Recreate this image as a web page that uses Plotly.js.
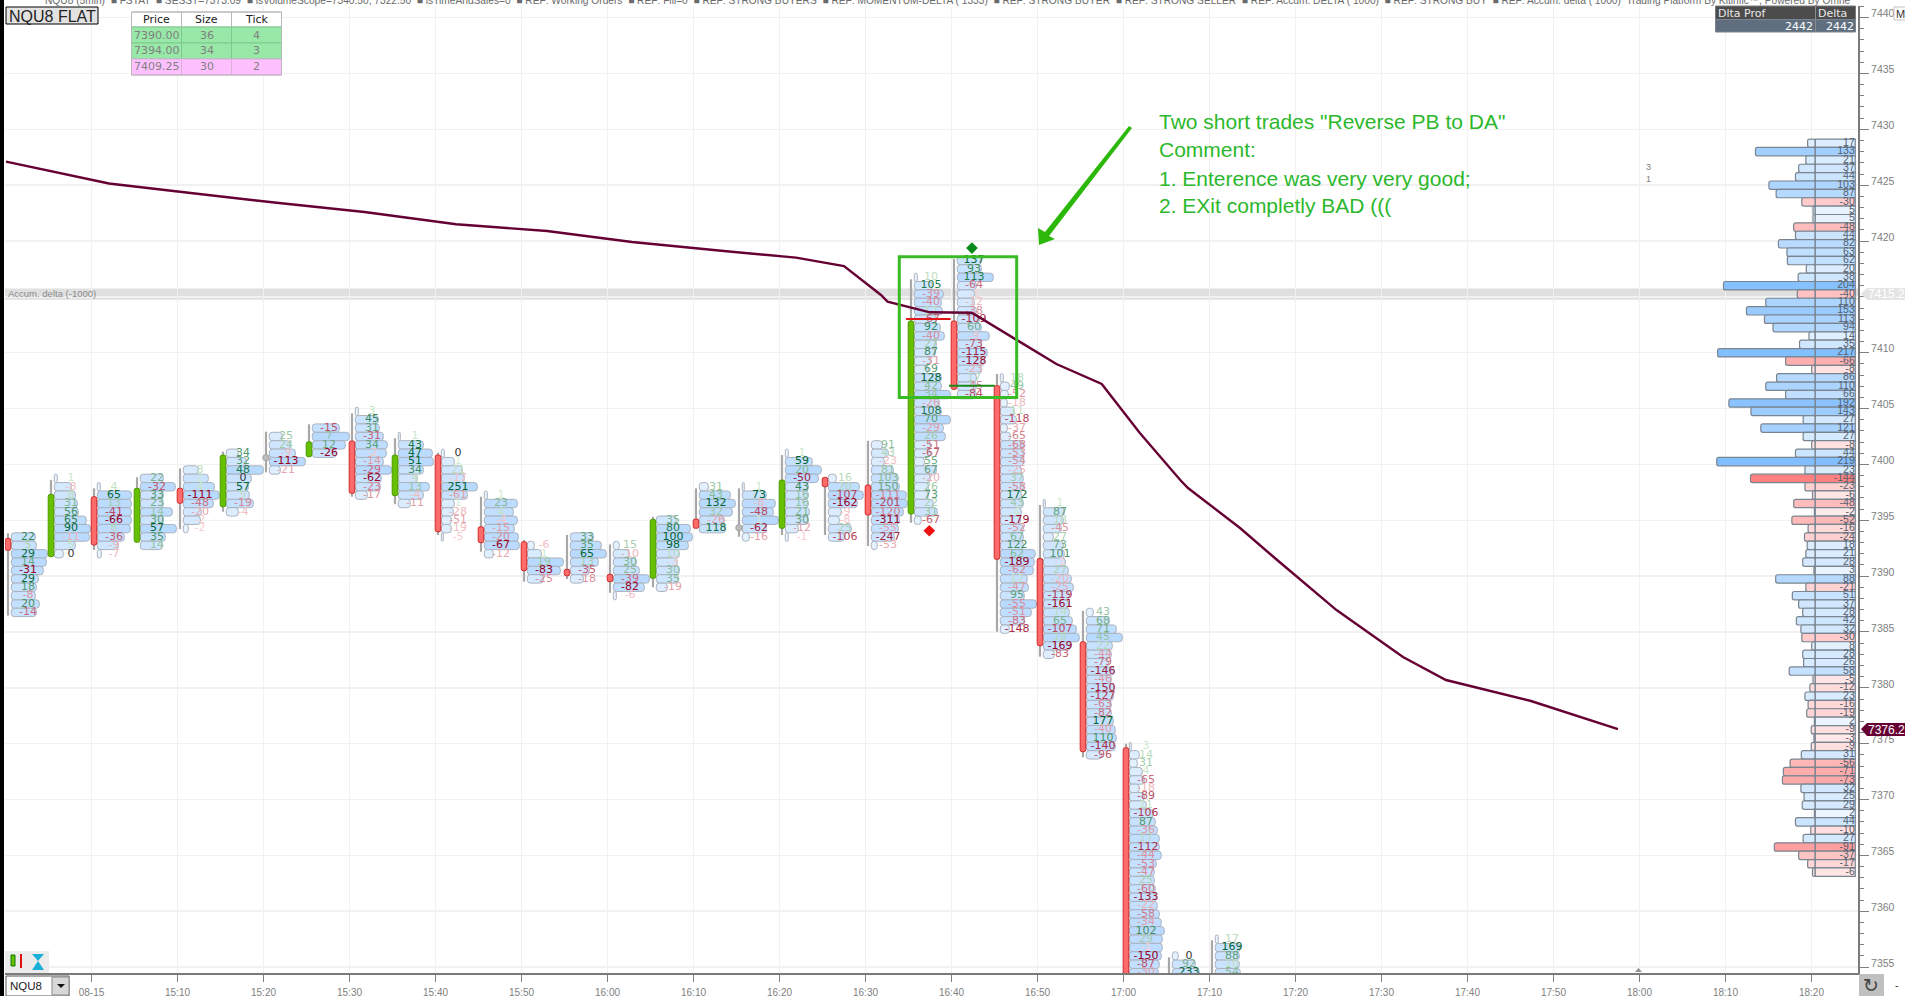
<!DOCTYPE html>
<html><head><meta charset="utf-8">
<script src="https://cdn.plot.ly/plotly-3.0.1.min.js"></script>
<style>html,body{margin:0;padding:0;background:#fff;overflow:hidden}</style></head>
<body><div id="chart" style="width:1905px;height:996px"></div>
<script>
// ---------- candle series (minutes after midnight, prices) ----------
const candleMinute=[890,895,900,905,910,915,920,925,930,935,940,945,950,955,960,965,970,975,980,985,990,995,1000,1005,1010,1015,1020,1025,1030];
const candleOpen =[7393.38,7391.74,7397.11,7393.03,7397.86,7396.21,7400.6,7400.69,7402.1,7397.2,7400.84,7394.42,7393.08,7390.61,7390.16,7389.8,7395.11,7394.33,7394.28,7398.84,7398.16,7395.56,7412.84,7407.05,7391.59,7384.13,7374.64,7350,7350];
const candleClose=[7392.31,7397.32,7392.78,7397.86,7396.52,7400.84,7400.6,7402.03,7397.41,7400.84,7393.97,7392.99,7390.49,7390.03,7389.5,7395.08,7394.28,7394.33,7398.6,7398.0,7395.47,7412.84,7406.72,7391.5,7383.77,7374.28,7350,7350,7350];
const candleHigh =[7393.83,7398.6,7397.86,7398.84,7399.65,7401.14,7402.93,7403.59,7404.57,7402.34,7401.05,7397.11,7393.23,7393.68,7392.84,7395.31,7397.86,7397.86,7400.84,7398.84,7402.12,7416.57,7418.39,7408.09,7396.37,7386.9,7375.0,7355.87,7357.4];
const candleLow  =[7386.46,7391.74,7392.34,7393.03,7394.22,7395.77,7399.29,7400.69,7397.11,7396.45,7393.68,7392.18,7389.5,7389.74,7388.51,7389.0,7394.42,7393.53,7393.68,7393.68,7392.7,7394.78,7406.66,7385.03,7382.79,7373.78,7350,7350,7350];
const profileTop =[7393.5,7398.75,7398,7398.75,7399.5,7401,7402.5,7403.25,7404.75,7402.5,7401,7397.25,7392.75,7393.5,7392.75,7395,7398,7398,7401,7398.75,7401.75,7416.75,7418.25,7407.75,7396.5,7386.75,7374.75,7356,7357.5];

// ---------- footprint cells: delta text and cell length per candle ----------
const d00=[22,5,29,14,-31,29,18,-8,20,-14];
const v00=[24,25,36,35,32,27,25,24,28,25];
const d01=[1,-8,8,31,56,65,90,-11,5,0];
const v01=[3,17,21,23,24,32,36,35,21,9];
const d02=[4,65,13,-41,-66,8,-36,-9,-7];
const v02=[3,34,34,34,34,33,27,21,4];
const d03=[22,-32,33,23,14,30,57,35,14];
const v03=[23,35,23,23,32,23,36,25,22];
const d04=[8,2,4,-111,-48,-20,-2,-2];
const v04=[15,25,31,36,30,18,17,5];
const d05=[34,32,48,0,57,5,-19,-4];
const v05=[12,20,37,25,22,23,27,12];
const d06=[25,24,-9,-113,-21];
const v06=[13,21,26,36,11];
const d07=[-15,7,12,-26];
const v07=[27,37,33,24];
const d08=[3,45,31,-31,34,-2,-14,-29,-62,-23,-17];
const v08=[3,23,24,28,32,31,28,36,26,25,12];
const d09=[1,43,47,51,34,4,13,-4,-11];
const v09=[2,25,34,35,25,19,31,25,12];
const d10=[0,1,21,-17,251,-61,1,-28,-51,-19,-5];
const v10=[3,13,21,23,36,26,13,12,10,10,2];
const d11=[1,23,4,-4,-15,-20,-67,-12];
const v11=[3,33,29,33,30,34,35,9];
const d12=[-6,1,19,-83,-25];
const v12=[7,14,36,33,16];
const d13=[33,35,65,13,-35,-18];
const v13=[23,31,36,28,19,13];
const d14=[15,-10,30,25,-39,-82,-6];
const v14=[6,16,23,26,36,31,3];
const d15=[35,80,100,98,10,-3,30,35,-19];
const v15=[20,34,36,32,23,21,23,22,11];
const d16=[31,43,132,32,-26,118];
const v16=[9,31,36,33,25,26];
const d17=[1,73,-8,-48,1,-62,-16];
const v17=[2,24,33,31,36,24,7];
const d18=[1,59,20,-50,43,16,16,21,30,-12,-1];
const v18=[3,27,36,33,23,23,23,24,23,13,3];
const d19=[16,20,-107,-162,-9,-8,25,-106];
const v19=[8,31,35,29,13,11,23,16];
const d20=[91,43,-23,81,103,150,-111,-201,-120,-311,-55,-247,-53];
const v20=[11,17,13,22,27,28,35,36,32,28,27,23,6];
const d21=[10,105,-39,-40,12,-67,92,-40,27,87,-31,69,128,42,34,-26,108,70,-29,26,-51,-67,55,67,-20,26,73,22,31,-67];
const v21=[3,18,29,27,28,22,26,30,22,21,16,14,27,27,36,25,27,36,29,31,16,16,10,22,16,14,14,19,23,7];
const d22=[137,93,113,-64,-1,-12,-38,-109,60,-9,-73,-115,-128,-23,17,-45,-84];
const v22=[24,24,36,19,17,17,19,22,24,32,24,30,27,24,19,19,19];
const d23=[18,49,-52,-18,11,-118,-37,-65,-68,-53,-54,-25,37,-58,172,43,4,-179,-52,67,122,62,-189,-62,12,-47,95,-55,-51,-83,-148];
const v23=[3,9,8,7,14,16,7,10,23,23,23,21,23,23,21,23,21,20,23,23,23,35,34,33,27,28,24,36,31,24,9];
const d24=[1,87,18,-45,27,73,101,-1,27,-20,-25,-119,-161,14,65,-107,18,-169,-83];
const v24=[2,21,20,18,10,20,21,22,25,28,30,26,25,26,29,33,36,27,11];
const d25=[43,68,71,45,22,-44,-79,-146,-46,-150,-127,-63,-82,177,-40,110,-140,-96];
const v25=[7,23,30,36,26,25,22,28,25,28,27,25,25,27,29,30,29,15];
const d26=[3,14,31,4,-65,-18,-89,11,-106,87,-36,17,-112,-44,-53,-47,25,-60,-133,-22,-58,-34,102,29,-1,-150,-87,-30];
const v26=[2,10,8,13,15,10,15,17,24,26,28,30,30,32,27,25,25,26,27,28,30,32,35,33,33,32,30,29];
const d27=[0,92,233];
const v27=[6,23,27];
const d28=[17,169,88,10,54];
const v28=[3,25,24,24,25];
const cellDeltas=[d00,d01,d02,d03,d04,d05,d06,d07,d08,d09,d10,d11,d12,d13,d14,d15,d16,d17,d18,d19,d20,d21,d22,d23,d24,d25,d26,d27,d28];
const cellLengths=[v00,v01,v02,v03,v04,v05,v06,v07,v08,v09,v10,v11,v12,v13,v14,v15,v16,v17,v18,v19,v20,v21,v22,v23,v24,v25,v26,v27,v28];

// ---------- session line ----------
const lineMinute=[890.06,902.03,910.52,921.8,931.74,942.4,952.97,962.85,974.13,981.92,987.5,991.8,992.56,997.5,1002.36,1007.59,1012.2,1017.47,1021.9,1026.6,1027.5,1033.55,1037.73,1044.77,1052.5,1057.5,1067.38,1077.5];
const linePrice=[7427.11,7425.15,7424.39,7423.4,7422.6,7421.5,7420.9,7419.91,7419.06,7418.51,7417.76,7415.17,7414.57,7413.62,7413.58,7411.14,7408.99,7407.2,7402.81,7398.6,7397.89,7394.31,7391.53,7386.96,7382.76,7380.7,7378.82,7376.31];

// ---------- right-hand delta profile, first row price then one value per 0.75 ----------
const profileFirstPrice=7428.75;
const deltaProfile=[17,133,21,37,44,103,87,-30,5,5,-48,44,82,63,62,20,38,204,-40,110,153,113,94,14,35,217,-66,-8,86,110,66,192,143,27,121,27,-8,44,219,23,-144,-23,-6,-48,-2,-52,-16,-24,18,21,28,3,88,-21,51,37,28,42,32,-30,8,28,26,58,-5,-12,23,-16,-19,2,-9,-3,-9,31,-56,-71,-73,32,25,29,2,44,-10,27,-91,-37,-17,-6];

// ---------- axes ----------
const xTickVals=[900,910,920,930,940,950,960,970,980,990,1000,1010,1020,1030,1040,1050,1060,1070,1080,1090,1100];
const xTickText=["08-15","15:10","15:20","15:30","15:40","15:50","16:00","16:10","16:20","16:30","16:40","16:50","17:00","17:10","17:20","17:30","17:40","17:50","18:00","18:10","18:20"];
const yTickVals=[7355,7360,7365,7370,7375,7380,7385,7390,7395,7400,7405,7410,7415,7420,7425,7430,7435,7440];

// ---------- order table and texts ----------
const tableHead=["Price","Size","Tick"];
const tablePrice=["7390.00","7394.00","7409.25"];
const tableSize=["36","34","30"];
const tableTick=["4","3","2"];
const commentLines=['Two short trades "Reverse PB to DA"','Comment:','1. Enterence was very very good;','2. EXit completly BAD (((' ];
const stripText="NQU8 (5min)  ■ FSTAT  ■ SESST=7373.09  ■ isVolumeScope=7340.50, 7322.50  ■ isTimeAndSales=0  ■ REF: Working Orders  ■ REF: Fill=0  ■ REF: STRONG BUYERS  ■ REF: MOMENTUM-DELTA ( 1333)  ■ REF: STRONG BUYER  ■ REF: STRONG SELLER  ■ REF: Accum. DELTA ( 1000)  ■ REF: STRONG BUY  ■ REF: Accum. delta ( 1000)  Trading Platform By Kitinfic™, Powered By Omne";

// trades
const entryMinute=[994.71,999.9], entryPrice=[7413.02,7413.02];
const exitMinute=[999.71,1005.03], exitPrice=[7407.05,7407.05];
const buyDiamond={x:[1002.38],y:[7419.37]}, sellDiamond={x:[997.42],y:[7394.06]};
const boxMinute=[993.93,1007.58], boxPrice=[7406.0,7418.59];
const lastPrice=7376.25, refPrice=7415.25;

// ---------- geometry helpers ----------
const W=1905,H=996,mL=5,mR=47,mT=6,mB=23;
const PW=W-mL-mR,PH=H-mT-mB;
const PX=x=>(x-mL)/PW, PY=y=>1-(y-mT)/PH;
const minPerPx=1/8.6;
const shapes=[],annos=[];
function rect(x0,y0,x1,y1,fill,line,lw){shapes.push({type:'rect',xref:'paper',yref:'paper',x0:PX(x0),x1:PX(x1),y0:PY(y0),y1:PY(y1),fillcolor:fill,line:{color:line||fill,width:line?(lw||1):0},layer:'above'});}
function txt(x,y,s,size,color,anchor,family){annos.push({xref:'paper',yref:'paper',x:PX(x),y:PY(y),text:s,showarrow:false,xanchor:anchor||'center',yanchor:'middle',font:{size:size,color:color,family:family||'Liberation Sans'},borderpad:0,borderwidth:0,captureevents:false});}
function poly(pts,fill){shapes.push({type:'path',xref:'paper',yref:'paper',path:'M '+pts.map(p=>PX(p[0])+' '+PY(p[1])).join(' L ')+' Z',fillcolor:fill,line:{width:0},layer:'above'});}

// ---------- footprint build ----------
const cellY=[],cellBase=[],cellLen=[],cellColor=[],labelX=[],labelY=[],labelText=[],labelColor=[];
const mix=(a,b,t)=>'rgb('+a.map((v,i)=>Math.round(v+(b[i]-v)*t)).join(',')+')';
cellDeltas.forEach((ds,i)=>{
  const vs=cellLengths[i],t=candleMinute[i]+0.29,maxAbs=Math.max(...ds.map(Math.abs));
  ds.forEach((d,k)=>{
    const p=profileTop[i]-0.75*k;
    cellY.push(p);cellBase.push(t+3.3*minPerPx);cellLen.push(vs[k]*minPerPx);
    cellColor.push(mix([238,246,255],[184,218,255],Math.min(1,vs[k]/36)));
    labelX.push(t+20*minPerPx);labelY.push(p);labelText.push(String(d));
    const a=Math.pow(Math.abs(d)/maxAbs,0.9);
    labelColor.push(d===0?'#333333':d>0?mix([212,235,208],[0,100,50],a):mix([250,212,212],[150,0,35],a));
  });
});

// ---------- right profile build ----------
const profY=deltaProfile.map((d,i)=>profileFirstPrice-0.75*i);
const profColor=deltaProfile.map(d=>d>=0?mix([240,247,255],[128,190,255],Math.pow(d/220,0.7)):mix([255,240,240],[255,128,128],Math.pow(-d/144,0.7)));
const colCentre=(1815.3-91.5)*minPerPx+900;
const profRightLen=40*minPerPx, profUnit=0.45*minPerPx;

// ---------- traces ----------
const traces=[];
traces.push({type:'bar',orientation:'h',y:profY,x:deltaProfile.map(d=>-Math.abs(d)*profUnit),base:profY.map(()=>colCentre),width:0.75,
  marker:{color:profColor,line:{color:'#7a8590',width:1.2},cornerradius:2},hoverinfo:'skip'});
traces.push({type:'bar',orientation:'h',y:profY,x:profY.map(()=>profRightLen),base:profY.map(()=>colCentre),width:0.75,
  marker:{color:profColor,line:{color:'#7a8590',width:1.2}},hoverinfo:'skip'});
traces.push({type:'bar',orientation:'h',y:cellY,x:cellLen,base:cellBase,width:0.75,
  marker:{color:cellColor,line:{color:'#aab2be',width:1},cornerradius:3},hoverinfo:'skip'});
traces.push({type:'bar',x:candleMinute.map(t=>t+0.29),y:candleHigh.map((h,i)=>h-candleLow[i]),base:candleLow,width:2.2*minPerPx,
  marker:{color:'#a8a8a8',line:{width:0}},hoverinfo:'skip'});
const bodyIdx=candleMinute.map((t,i)=>i).filter(i=>candleOpen[i]!==candleClose[i]);
traces.push({type:'bar',x:bodyIdx.map(i=>candleMinute[i]+0.29),
  y:bodyIdx.map(i=>Math.abs(candleOpen[i]-candleClose[i])),base:bodyIdx.map(i=>Math.min(candleOpen[i],candleClose[i])),width:5.6*minPerPx,
  marker:{color:bodyIdx.map(i=>candleClose[i]>candleOpen[i]?'#66c000':'#ff6a6a'),line:{color:bodyIdx.map(i=>candleClose[i]>candleOpen[i]?'#4a9a00':'#d02828'),width:1},cornerradius:2},hoverinfo:'skip'});
const dojiIdx=bodyIdx.length?candleMinute.map((t,i)=>i).filter(i=>candleOpen[i]===candleClose[i]&&candleOpen[i]>7354.5):[];
traces.push({type:'scatter',mode:'markers',x:dojiIdx.map(i=>candleMinute[i]+0.29),y:dojiIdx.map(i=>candleOpen[i]),marker:{symbol:'hexagon',size:7,color:'#bdbdbd',line:{color:'#a0a0a0',width:1}},hoverinfo:'skip'});
traces.push({type:'scatter',mode:'text',x:labelX,y:labelY,text:labelText,textposition:'middle center',
  textfont:{family:'DejaVu Sans',size:11,color:labelColor},hoverinfo:'skip'});
traces.push({type:'scatter',mode:'text',x:profY.map(()=>colCentre+39.5*minPerPx),y:profY,text:deltaProfile.map(String),textposition:'middle left',
  textfont:{family:'Liberation Sans',size:10.5,color:'#55606e'},hoverinfo:'skip'});
traces.push({type:'scatter',mode:'lines',x:lineMinute,y:linePrice,line:{color:'#660033',width:2.4},hoverinfo:'skip'});
traces.push({type:'scatter',mode:'lines',x:entryMinute,y:entryPrice,line:{color:'#e01818',width:2},hoverinfo:'skip'});
traces.push({type:'scatter',mode:'lines',x:exitMinute,y:exitPrice,line:{color:'#1a8a1a',width:2},hoverinfo:'skip'});
traces.push({type:'scatter',mode:'markers',x:buyDiamond.x,y:buyDiamond.y,marker:{symbol:'diamond',size:9,color:'#0a8a1a'},hoverinfo:'skip'});
traces.push({type:'scatter',mode:'markers',x:sellDiamond.x,y:sellDiamond.y,marker:{symbol:'diamond',size:9,color:'#ee1111'},hoverinfo:'skip'});

// ---------- decorations ----------
shapes.push({type:'rect',xref:'paper',yref:'y',x0:0,x1:1,y0:refPrice-0.5,y1:refPrice+0.5,fillcolor:'#e0e0e0',line:{width:0},layer:'below'});
shapes.push({type:'rect',xref:'x',yref:'y',x0:boxMinute[0],x1:boxMinute[1],y0:boxPrice[0],y1:boxPrice[1],fillcolor:'rgba(0,0,0,0)',line:{color:'#38bb24',width:3},layer:'above'});
txt(8,294,'Accum. delta (-1000)',9.5,'#8a8a8a','left');
// left border
rect(-1,-1,4,997,'#000000');
// top strip
txt(45,1,stripText,10.2,'#6a6a6a','left');
// flat label
rect(6,7,98,24,'#e2e2e2','#000000',1);
txt(52,16,'NQU8 FLAT',16,'#222222');
// order table
const colX=[131.5,181.5,231.5,281.5],rowY=[12,27,43,59,75];
const rowFill=['#ffffff','#98e8a8','#98e8a8','#ffc0ff'];
for(let r=0;r<4;r++)for(let c=0;c<3;c++)rect(colX[c],rowY[r],colX[c+1],rowY[r+1],rowFill[r],r===3?'#d8b0d8':(r===0?'#b8b8b8':'#80c890'),1);
rect(131.5,12,281.5,75,'rgba(0,0,0,0)','#b8b8b8',1);
tableHead.forEach((s,c)=>txt((colX[c]+colX[c+1])/2,19.5,s,11,'#222222','center','DejaVu Sans'));
[tablePrice,tableSize,tableTick].forEach((col,c)=>col.forEach((s,r)=>txt((colX[c]+colX[c+1])/2,(rowY[r+1]+rowY[r+2])/2,s,11,'#808080','center','DejaVu Sans')));
// comment
const commentY=[122,150,178,205.5];
commentLines.forEach((s,i)=>txt(1159,commentY[i],s,21,'#2cb82c','left'));
poly([[1129,126],[1132,128],[1049,236],[1055,239],[1039,245],[1038,228],[1045,232]],'#2cb80a');
txt(1648,167,'3',9,'#808080');txt(1648,179,'1',9,'#808080');
// delta header
rect(1715.5,6,1855.5,19.5,'#4c4c4c','#7a7a7a',1);
rect(1715.5,19.5,1855.5,32,'#5f6f7f','#7a8590',1);
shapes.push({type:'line',xref:'paper',yref:'paper',x0:PX(1815.5),x1:PX(1815.5),y0:PY(6),y1:PY(32),line:{color:'#8a8a8a',width:1},layer:'above'});
txt(1718,13,'Dlta Prof',11,'#e8e8e8','left','DejaVu Sans');
txt(1818,13,'Delta',11,'#e8e8e8','left','DejaVu Sans');
txt(1813,26,'2442',11,'#ffffff','right','DejaVu Sans');
txt(1854,26,'2442',11,'#ffffff','right','DejaVu Sans');
// price tags
poly([[1861,729],[1867,723],[1906,723],[1906,736],[1867,736]],'#660033');
txt(1868,729.5,String(lastPrice.toFixed(2)),12,'#ffffff','left','Liberation Sans');
poly([[1861,294],[1867,288],[1906,288],[1906,300],[1867,300]],'#e4e4e4');
txt(1868,294.5,String(refPrice.toFixed(2)),12,'#ffffff','left','Liberation Sans');
// corner controls
rect(1894,7,1906,20,'#ffffff','#c0c0c0',1);txt(1900,13.5,'M',11,'#333333');
rect(1859,974,1884,996,'#c0c0c0');txt(1871,985,'↻',19,'#444444','center','DejaVu Sans');
txt(1897,985,'-',11,'#333333');
rect(6,976,69,996,'#ffffff','#555555',1);txt(10,985.5,'NQU8',11.5,'#222222','left');
rect(52,977,69,995,'#d8d8d8','#888888',1);poly([[57,984],[65,984],[61,988]],'#111111');
poly([[1635,972],[1642,972],[1638.5,968]],'#909090');
// tool icons
rect(5,951,49,973,'#ececec');
rect(11,955,15,966,'#66c000','#0a7a0a',1);shapes.push({type:'line',xref:'paper',yref:'paper',x0:PX(21),x1:PX(21),y0:PY(954),y1:PY(968),line:{color:'#e01010',width:2},layer:'above'});
poly([[32,954],[44,954],[38,961]],'#1ab0d8');poly([[32,970],[44,970],[38,961]],'#1ab0d8');

const layout={width:W,height:H,margin:{l:mL,r:mR,t:mT,b:mB,pad:0},paper_bgcolor:'#ffffff',plot_bgcolor:'#ffffff',showlegend:false,barmode:'overlay',hovermode:false,
  xaxis:{type:'linear',range:[889.94,1105.41],tickmode:'array',tickvals:xTickVals,ticktext:xTickText,showgrid:true,gridcolor:'#f1f1f1',gridwidth:1.5,zeroline:false,ticks:'outside',ticklen:7,tickwidth:1,tickcolor:'#808080',showline:true,linecolor:'#7a7a7a',linewidth:2,tickfont:{family:'Liberation Sans',size:10,color:'#808080'},ticklabelstandoff:2,fixedrange:true},
  yaxis:{type:'linear',side:'right',range:[7354.47,7441.04],tickmode:'array',tickvals:yTickVals,showgrid:true,gridcolor:'#f1f1f1',gridwidth:1.5,zeroline:false,ticks:'outside',ticklen:9,tickwidth:1,tickcolor:'#808080',showline:true,linecolor:'#7a7a7a',linewidth:2,tickfont:{family:'Liberation Sans',size:10.5,color:'#808080'},ticklabelshift:-4,
    minor:{dtick:1,ticks:'outside',ticklen:4,tickcolor:'#808080',tickwidth:1,showgrid:false},fixedrange:true},
  shapes:shapes,annotations:annos};
Plotly.newPlot('chart',traces,layout,{staticPlot:true,displayModeBar:false});
</script></body></html>
